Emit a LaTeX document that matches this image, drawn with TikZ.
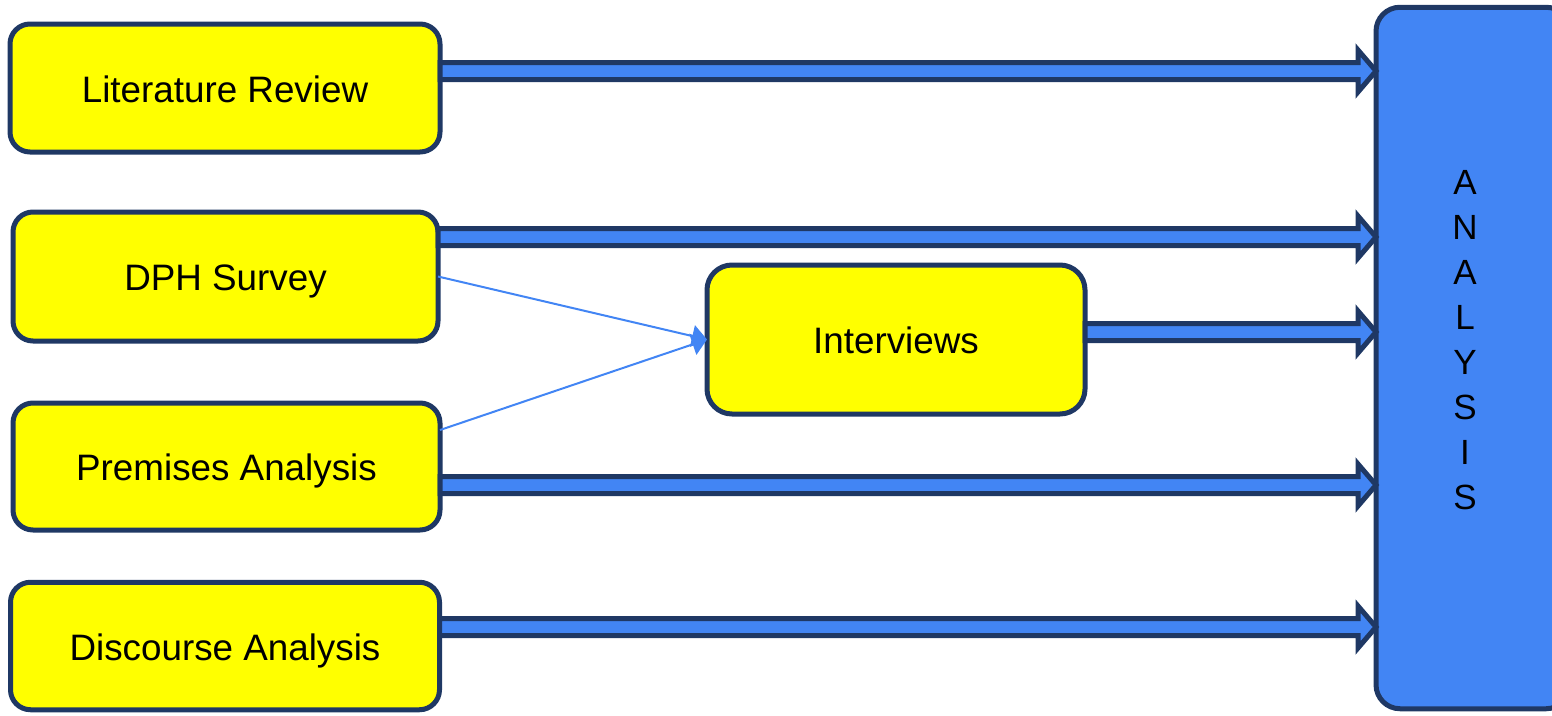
\documentclass[tikz,border=0pt]{standalone}
\usepackage{fontspec}
\setmainfont{Liberation Sans}
\usetikzlibrary{arrows.meta,calc}
\definecolor{navy}{HTML}{1F3864}
\definecolor{bblue}{HTML}{4285F4}
\definecolor{yel}{HTML}{FFFF00}
\newcommand\blockarr[2]{\draw[blockarrow] let \p1=(#1), \p2=(#2) in
  (\x1,\y1+8.5pt) -- (\x2-18pt,\y1+8.5pt) -- (\x2-18pt,\y1+21pt) -- (\x2,\y1) --
  (\x2-18pt,\y1-21pt) -- (\x2-18pt,\y1-8.5pt) -- (\x1,\y1-8.5pt) -- cycle;}
\begin{document}
\begin{tikzpicture}[x=1pt,y=-1pt,
  box/.style={draw=navy, fill=yel, line width=5pt, rounded corners=20pt,
    outer sep=0pt, inner sep=0pt, text height=28pt, text depth=0pt,
    font=\fontsize{36.8}{44}\selectfont, text=black},
  blockarrow/.style={draw=navy, fill=bblue, line width=5pt, line join=miter, miter limit=10},
  thinarrow/.style={draw=bblue, line width=2pt, -{Triangle[length=15pt,width=22pt]}}]
\useasboundingbox (0,0) rectangle (1552,715);
\clip (0,0) rectangle (1552,715);
\node[box, minimum width=430pt, minimum height=128pt] (lit) at (225,88) {Literature Review};
\node[box, minimum width=425pt, minimum height=129pt] (dph) at (225.5,276.5) {DPH Survey};
\node[box, minimum width=427pt, minimum height=127pt] (prem) at (226.5,466.5) {Premises Analysis};
\node[box, minimum width=429pt, minimum height=127.5pt] (disc) at (225,646) {Discourse Analysis};
\node[box, rounded corners=25pt, minimum width=378pt, minimum height=149pt] (ivw) at (896,339.5) {Interviews};
\node[box, fill=bblue, rounded corners=24pt, minimum width=194pt, minimum height=701.5pt] (ana) at (1473,358) {};
\node[font=\fontsize{35}{45}\selectfont, align=center, inner sep=0pt] (anatext) at (1465,340) {A\\N\\A\\L\\Y\\S\\I\\S};
% block arrows
\blockarr{lit.east |- 0,71}{ana.west |- 0,71}
\blockarr{dph.east |- 0,237}{ana.west |- 0,237}
\blockarr{ivw.east |- 0,332}{ana.west |- 0,332}
\blockarr{prem.east |- 0,485}{ana.west |- 0,485}
\blockarr{disc.east |- 0,627}{ana.west |- 0,627}
% thin arrows
\draw[thinarrow] (dph.east) -- (ivw.west);
\draw[thinarrow] (prem.east |- 0,430) -- (ivw.west);
\end{tikzpicture}
\end{document}
